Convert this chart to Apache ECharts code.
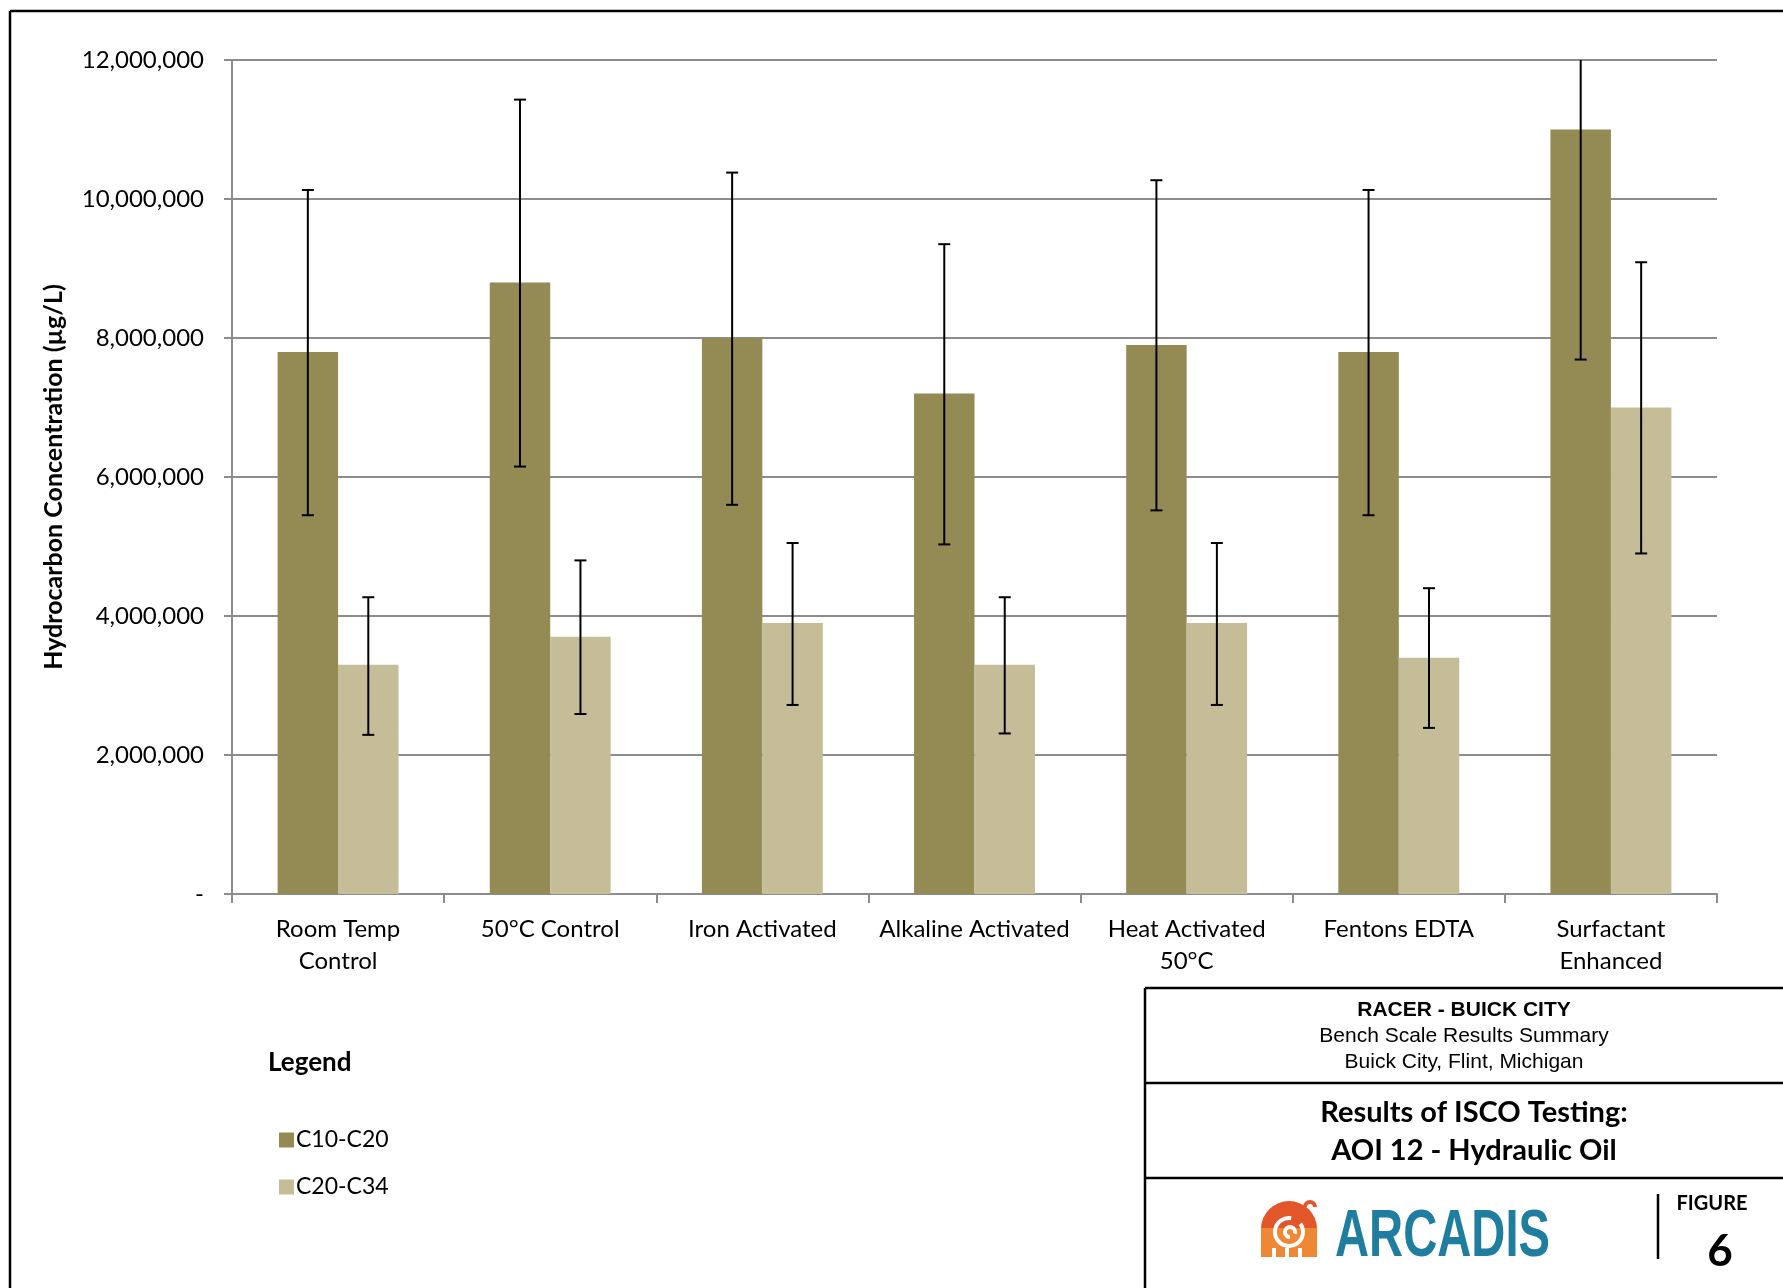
<!DOCTYPE html>
<html>
<head>
<meta charset="utf-8">
<script src="https://cdn.jsdelivr.net/npm/echarts@6/dist/echarts.min.js"></script>
<style>
  html, body { margin: 0; padding: 0; background: #fff; }
  #main { width: 1783px; height: 1288px; }
</style>
</head>
<body>
<div id="main"></div>
<script>
// categories and values
const categories = ['Room Temp\nControl', '50°C Control', 'Iron Activated', 'Alkaline Activated',
  'Heat Activated\n50°C', 'Fentons EDTA', 'Surfactant\nEnhanced'];
const c10 = [7800000, 8800000, 8000000, 7200000, 7900000, 7800000, 11000000];
const c20 = [3300000, 3700000, 3900000, 3300000, 3900000, 3400000, 7000000];
const c10Low = [5450000, 6150000, 5600000, 5030000, 5520000, 5450000, 7690000];
const c10High = [10130000, 11430000, 10380000, 9350000, 10270000, 10130000, 12000000];
const c20Low = [2290000, 2590000, 2720000, 2310000, 2720000, 2390000, 4900000];
const c20High = [4270000, 4800000, 5050000, 4270000, 5050000, 4400000, 9090000];

const yMax = 12000000;
const gap = 0.43;
const font = 'Lato';

// error bars, shifted onto the left or right bar of each group
function errRender(side) {
  return function (params, api) {
    const band = api.size([1, 0])[0];
    const bw = band * (1 - gap) / 2;
    const lo = api.coord([api.value(0), api.value(1)]);
    const hi = api.coord([api.value(0), api.value(2)]);
    const x = lo[0] + side * bw / 2;
    const cw = 6;
    const st = { stroke: '#000', lineWidth: 2 };
    const kids = [
      { type: 'line', shape: { x1: x, y1: hi[1], x2: x, y2: lo[1] }, style: st },
      { type: 'line', shape: { x1: x - cw, y1: lo[1], x2: x + cw, y2: lo[1] }, style: st }
    ];
    // top cap is cut off by the axis max
    if (api.value(2) < yMax) {
      kids.push({ type: 'line', shape: { x1: x - cw, y1: hi[1], x2: x + cw, y2: hi[1] }, style: st });
    }
    return { type: 'group', children: kids };
  };
}

const myChart = echarts.init(document.getElementById('main'));
const PI = Math.PI;

const option = {
  backgroundColor: '#fff',
  animation: false,
  grid: { left: 232, right: 66, top: 60, bottom: 394 },
  legend: {
    orient: 'vertical',
    left: 274,
    top: 1122,
    itemWidth: 15,
    itemHeight: 15,
    itemGap: 21,
    icon: 'rect',
    data: ['C10-C20', 'C20-C34'],
    textStyle: { fontFamily: font, fontSize: 23, color: '#000', lineHeight: 26, padding: [0, 0, 0, -3] }
  },
  xAxis: {
    type: 'category',
    data: categories,
    axisLine: { lineStyle: { color: '#8c8c8c', width: 2 } },
    axisTick: { show: true, length: 9, lineStyle: { color: '#8c8c8c', width: 2 } },
    axisLabel: {
      interval: 0, margin: 19, color: '#000', fontFamily: font, fontSize: 24, lineHeight: 32
    }
  },
  yAxis: {
    type: 'value',
    min: 0,
    max: yMax,
    interval: 2000000,
    axisLine: { show: true, lineStyle: { color: '#8c8c8c', width: 2 } },
    axisTick: { show: true, length: 8, lineStyle: { color: '#8c8c8c', width: 2 } },
    splitLine: { lineStyle: { color: '#8c8c8c', width: 2 } },
    axisLabel: {
      margin: 28, color: '#000', fontFamily: font, fontSize: 24,
      formatter: function (v) { return v === 0 ? '-' : v.toLocaleString('en-US'); }
    },
    name: 'Hydrocarbon Concentration (µg/L)',
    nameLocation: 'middle',
    nameGap: 166,
    nameTextStyle: { fontFamily: font, fontSize: 25, fontWeight: 'bold', color: '#000' }
  },
  series: [
    {
      name: 'C10-C20', type: 'bar', data: c10, barGap: '0%', barCategoryGap: '43%',
      itemStyle: { color: '#948a54' }
    },
    {
      name: 'C20-C34', type: 'bar', data: c20,
      itemStyle: { color: '#c4bd97' }
    },
    {
      name: 'err1', type: 'custom', renderItem: errRender(-1), z: 10,
      encode: { x: 0, y: [1, 2] },
      data: categories.map((c, i) => [i, c10Low[i], c10High[i]])
    },
    {
      name: 'err2', type: 'custom', renderItem: errRender(1), z: 10,
      encode: { x: 0, y: [1, 2] },
      data: categories.map((c, i) => [i, c20Low[i], c20High[i]])
    }
  ],
  graphic: [
    // outer frame
    { type: 'line', shape: { x1: 10, y1: 11, x2: 1783, y2: 11 }, style: { stroke: '#000', lineWidth: 2.5 } },
    { type: 'line', shape: { x1: 10, y1: 11, x2: 10, y2: 1288 }, style: { stroke: '#000', lineWidth: 2.5 } },
    // legend title
    { type: 'text', x: 268, y: 1050, style: { text: 'Legend', fontFamily: font, fontSize: 26, fontWeight: 'bold', fill: '#000' } },
    // title block
    { type: 'line', shape: { x1: 1145, y1: 988, x2: 1783, y2: 988 }, style: { stroke: '#000', lineWidth: 2.5 } },
    { type: 'line', shape: { x1: 1145, y1: 988, x2: 1145, y2: 1288 }, style: { stroke: '#000', lineWidth: 2.5 } },
    { type: 'line', shape: { x1: 1145, y1: 1083, x2: 1783, y2: 1083 }, style: { stroke: '#000', lineWidth: 2.5 } },
    { type: 'line', shape: { x1: 1145, y1: 1178, x2: 1783, y2: 1178 }, style: { stroke: '#000', lineWidth: 2.5 } },
    { type: 'text', x: 1464, y: 1010, style: { text: 'RACER - BUICK CITY', fontFamily: 'Liberation Sans', fontSize: 21, fontWeight: 'bold', fill: '#000', align: 'center', verticalAlign: 'middle' } },
    { type: 'text', x: 1464, y: 1036, style: { text: 'Bench Scale Results Summary', fontFamily: 'Liberation Sans', fontSize: 21, fill: '#000', align: 'center', verticalAlign: 'middle' } },
    { type: 'text', x: 1464, y: 1062, style: { text: 'Buick City, Flint, Michigan', fontFamily: 'Liberation Sans', fontSize: 21, fill: '#000', align: 'center', verticalAlign: 'middle' } },
    { type: 'text', x: 1474, y: 1113, style: { text: 'Results of ISCO Testing:', fontFamily: font, fontSize: 29, fontWeight: 'bold', fill: '#000', align: 'center', verticalAlign: 'middle' } },
    { type: 'text', x: 1474, y: 1151, style: { text: 'AOI 12 - Hydraulic Oil', fontFamily: font, fontSize: 29, fontWeight: 'bold', fill: '#000', align: 'center', verticalAlign: 'middle' } },
    // logo mark
    {
      type: 'group', x: 1261, y: 1200,
      children: [
        { type: 'sector', shape: { cx: 28, cy: 29, r: 28, r0: 0, startAngle: PI, endAngle: 2 * PI }, style: { fill: '#e2562a' } },
        { type: 'rect', shape: { x: 0, y: 28, width: 56, height: 29 }, style: { fill: '#ef8734' } },
        { type: 'arc', shape: { cx: 49, cy: 7, r: 5, startAngle: PI, endAngle: 2 * PI }, style: { stroke: '#e2562a', lineWidth: 4, fill: null } },
        { type: 'arc', shape: { cx: 28, cy: 32, r: 14, startAngle: -0.2 * PI, endAngle: 1.55 * PI, clockwise: true }, style: { stroke: '#fff', lineWidth: 4, fill: null } },
        { type: 'arc', shape: { cx: 29, cy: 32, r: 5, startAngle: 0.5 * PI, endAngle: 2.1 * PI, clockwise: true }, style: { stroke: '#fff', lineWidth: 4, fill: null } },
        { type: 'rect', shape: { x: 11, y: 48, width: 4, height: 10 }, style: { fill: '#fff' } },
        { type: 'rect', shape: { x: 24, y: 48, width: 4, height: 10 }, style: { fill: '#fff' } },
        { type: 'rect', shape: { x: 37, y: 48, width: 4, height: 10 }, style: { fill: '#fff' } }
      ]
    },
    { type: 'text', x: 1335, y: 1238, scaleX: 0.715, originX: 0, originY: 0,
      style: { text: 'ARCADIS', fontFamily: 'Liberation Sans', fontSize: 66, fontWeight: 'bold', fill: '#1f7ea0', verticalAlign: 'middle' } },
    { type: 'line', shape: { x1: 1658, y1: 1194, x2: 1658, y2: 1259 }, style: { stroke: '#000', lineWidth: 2.5 } },
    { type: 'text', x: 1712, y: 1204, style: { text: 'FIGURE', fontFamily: font, fontSize: 20, fontWeight: 'bold', fill: '#000', align: 'center', verticalAlign: 'middle' } },
    { type: 'text', x: 1720, y: 1252, style: { text: '6', fontFamily: font, fontSize: 44, fontWeight: 'bold', fill: '#000', align: 'center', verticalAlign: 'middle' } }
  ]
};

myChart.setOption(option);
</script>
</body>
</html>
